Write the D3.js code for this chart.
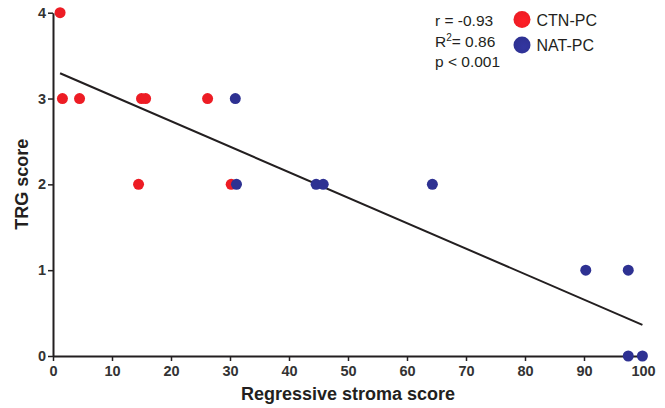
<!DOCTYPE html>
<html>
<head>
<meta charset="utf-8">
<script src="https://cdn.jsdelivr.net/npm/d3@7"></script>
<style>
  body { margin: 0; background: #fff; }
  svg { display: block; font-family: Arial, "Liberation Sans", sans-serif; }
</style>
</head>
<body>
<svg id="chart" width="665" height="408"></svg>
<script>
// values
const ctnX = [1.2, 1.6, 4.5, 15.0, 15.7, 26.2, 14.5, 30.2]
const ctnY = [4, 3, 3, 3, 3, 3, 2, 2]
const natX = [30.9, 31.1, 44.6, 45.8, 64.3, 90.3, 97.5, 97.5, 99.9]
const natY = [3, 2, 2, 2, 2, 1, 1, 0, 0]
const xTicks = [0, 10, 20, 30, 40, 50, 60, 70, 80, 90, 100]
const yTicks = [0, 1, 2, 3, 4]
const fitSlope = -0.0297
const fitIntercept = 3.33
const statsLines = ['r = -0.93', 'R2= 0.86', 'p < 0.001']
const seriesNames = ['CTN-PC', 'NAT-PC']
const seriesColors = ['#ed1c24', '#2e3192']

const ink = '#231f20'
const svg = d3.select('#chart')

const x = d3.scaleLinear().domain([0, 100]).range([53, 643])
const y = d3.scaleLinear().domain([0, 4]).range([356, 12.7])

// axes
const xAxis = svg.append('g')
  .attr('transform', `translate(0,${y(0)})`)
  .call(d3.axisBottom(x).tickValues(xTicks).tickFormat(d3.format('d'))
    .tickSize(5).tickPadding(5).tickSizeOuter(0))
const yAxis = svg.append('g')
  .attr('transform', `translate(${x(0)},0)`)
  .call(d3.axisLeft(y).tickValues(yTicks).tickFormat(d3.format('d'))
    .tickSize(5).tickPadding(2).tickSizeOuter(0))

;[xAxis, yAxis].forEach(a => {
  a.select('.domain').attr('stroke', ink).attr('stroke-width', 2)
  a.selectAll('.tick line').attr('stroke', ink).attr('stroke-width', 1.5)
  a.selectAll('.tick text')
    .attr('fill', '#333')
    .style('font-size', '14.5px')
    .style('font-weight', 'bold')
    .style('font-family', 'Arial, "Liberation Sans", sans-serif')
})

// axis titles
svg.append('text')
  .attr('x', 348).attr('y', 400)
  .attr('text-anchor', 'middle')
  .attr('fill', ink)
  .style('font-size', '18px').style('font-weight', 'bold')
  .text('Regressive stroma score')
svg.append('text')
  .attr('transform', `translate(28,${(y(0) + y(4)) / 2}) rotate(-90)`)
  .attr('text-anchor', 'middle')
  .attr('fill', ink)
  .style('font-size', '18px').style('font-weight', 'bold')
  .text('TRG score')

// regression line over the data range
const allX = ctnX.concat(natX)
const fitX = d3.extent(allX)
svg.append('path')
  .attr('d', d3.line().x(d => x(d)).y(d => y(fitIntercept + fitSlope * d))(fitX))
  .attr('stroke', ink).attr('stroke-width', 2).attr('fill', 'none')

// points
const series = [
  { xs: ctnX, ys: ctnY, color: seriesColors[0] },
  { xs: natX, ys: natY, color: seriesColors[1] }
]
series.forEach(s => {
  svg.append('g').selectAll('circle')
    .data(s.xs.map((v, i) => [v, s.ys[i]]))
    .join('circle')
    .attr('cx', d => x(d[0]))
    .attr('cy', d => y(d[1]))
    .attr('r', 5.5)
    .attr('fill', s.color)
})

// stats text
const stats = svg.append('text')
  .attr('fill', ink)
  .style('font-size', '15.5px')
statsLines.forEach((t, i) => {
  const ts = stats.append('tspan').attr('x', 435).attr('y', 26 + i * 20.5)
  if (t.startsWith('R2')) {
    ts.text('R')
    stats.append('tspan').attr('dy', -6).style('font-size', '10px').text('2')
    stats.append('tspan').attr('dy', 6).text(t.slice(2))
  } else {
    ts.text(t)
  }
})

// legend
const defs = svg.append('defs')
seriesColors.forEach((c, i) => {
  const g = defs.append('radialGradient').attr('id', 'lg' + i)
    .attr('cx', '60%').attr('cy', '60%').attr('r', '60%')
  g.append('stop').attr('offset', '0%').attr('stop-color', d3.color(c).brighter(0.25))
  g.append('stop').attr('offset', '100%').attr('stop-color', c)
})
const legend = svg.append('g')
seriesNames.forEach((name, i) => {
  legend.append('circle')
    .attr('cx', 522).attr('cy', 19.5 + i * 25.5)
    .attr('r', 8.5).attr('fill', `url(#lg${i})`)
  legend.append('text')
    .attr('x', 536.5).attr('y', 25.5 + i * 25.5)
    .attr('fill', ink)
    .style('font-size', '16px')
    .text(name)
})
</script>
</body>
</html>
